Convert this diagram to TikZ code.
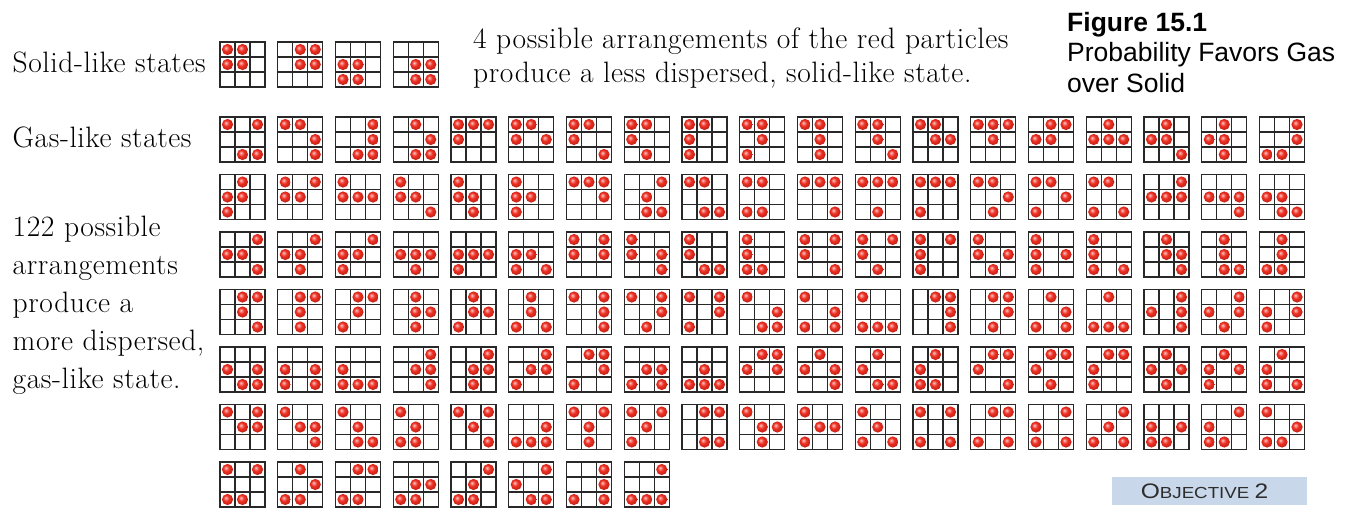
\documentclass[tikz,border=0pt]{standalone}
\usepackage{fontspec}
\newfontfamily\arialfont{Liberation Sans}
\newfontfamily\serifwide{Latin Modern Roman}[LetterSpace=2]
\definecolor{ballred}{RGB}{238,45,32}
\definecolor{gridgray}{RGB}{40,40,40}
\definecolor{objblue}{RGB}{201,215,234}
\definecolor{objtext}{RGB}{45,45,45}
\pgfdeclareradialshading{redball}{\pgfpoint{-8bp}{8bp}}{%
  color(0bp)=(ballred!25!white); color(5bp)=(ballred!55!white); color(13bp)=(ballred);
  color(22bp)=(ballred!88!black); color(25bp)=(ballred!80!black); color(50bp)=(ballred!80!black)}
\tikzset{
  gridline/.style={draw=gridgray,line width=1.3pt},
  particle/.style={shading=redball},
  serif/.style={anchor=base west,inner sep=0pt,font=\serifwide\fontsize{29.5}{38}\selectfont},
  sanslbl/.style={anchor=base west,inner sep=0pt,font=\arialfont\fontsize{26.5}{30}\selectfont},
}
\newcommand\ballat[3]{\ifnum#1=1 \shade[particle] ({7.5+15*#2},{7.5+15*#3}) circle (5.6);\fi}
\def\ballrow#1#2#3#4#5#6#7#8#9\relax{%
  \ballat{#1}{0}{0}\ballat{#2}{1}{0}\ballat{#3}{2}{0}%
  \ballat{#4}{0}{1}\ballat{#5}{1}{1}\ballat{#6}{2}{1}%
  \ballat{#7}{0}{2}\ballat{#8}{1}{2}\ballat{#9}{2}{2}}
\newcommand\gridat[3]{%
  \begin{scope}[shift={({#1},{#2})}]
    \draw[gridline] (0,0) rectangle (45,45);
    \draw[gridline] (15,0) -- (15,45) (30,0) -- (30,45) (0,15) -- (45,15) (0,30) -- (45,30);
    \expandafter\ballrow#3\relax
  \end{scope}}
\newcommand\gasgrid[3]{\gridat{220+(#1-1)*57.75}{117+(#2-1)*57.5}{#3}}
\begin{document}
\begin{tikzpicture}[x=1pt,y=-1pt]
\useasboundingbox (0,0) rectangle (1356,507);
\fill[white] (0,0) rectangle (1356,507);
% solid-like
\gridat{220}{42}{110110000}
\gridat{277.75}{42}{011011000}
\gridat{335.5}{42}{000110110}
\gridat{393.25}{42}{000011011}
% row 1
\foreach \p [count=\c] in {101000011,110001001,001001011,010001011,111100000,110101000,110100001,110100010,110100100,110010100,110010010,110010001,110011000,111010000,011110000,010111000,010110001,010110010,001001110}{\gasgrid{\c}{1}{\p}}
% row 2
\foreach \p [count=\c] in {010110100,101110000,100111000,100110001,100110010,100110100,111001000,001010011,110000011,110000110,111000001,111000010,111000100,110001010,110001100,110000101,001111000,000111001,000110011}{\gasgrid{\c}{2}{\p}}
% row 3
\foreach \p [count=\c] in {001110001,001110010,001110100,000111010,000111100,000110101,101101000,100101001,100100011,100100110,101100001,101100010,101100100,100101010,100101100,100100101,010011001,010010011,010010110}{\gasgrid{\c}{3}{\p}}
% row 4
\foreach \p [count=\c] in {011010001,011010010,011010100,010011010,010011100,010010101,101001001,101001010,101001100,100001011,100001101,100000111,011001001,011001010,010001101,010000111,001101001,001101010,001101100}{\gasgrid{\c}{4}{\p}}
% row 5
\foreach \p [count=\c] in {000101011,000101101,000100111,001011001,001011010,001011100,011001100,000011101,000010111,011101000,010101001,010100011,010100110,011100001,011100010,011100100,010101010,010101100,010100101}{\gasgrid{\c}{5}{\p}}
% row 6
\foreach \p [count=\c] in {101011000,100011001,100010011,100010110,101010001,000001111,101010010,101010100,011000011,100011010,100011100,100010101,101000101,011000101,001100101,001010101,000101110,001100110,100001110}{\gasgrid{\c}{6}{\p}}
% row 7
\foreach \p [count=\c] in {101000110,010001110,011000110,000011110,001010110,001100011,001001101,001000111}{\gasgrid{\c}{7}{\p}}
% left texts
\node[serif] (solidlbl) at (12.5,72.7) {Solid-like states};
\node[serif] (gaslbl) at (12.5,147) {Gas-like states};
\node[serif] (l1) at (12.5,236.7) {122 possible};
\node[serif] (l2) at (12.5,274.6) {arrangements};
\node[serif] (l3) at (12.5,312.5) {produce a};
\node[serif] (l4) at (12.5,350.4) {more dispersed,};
\node[serif] (l5) at (12.5,388.3) {gas-like state.};
% top text
\node[serif] (t1) at (473,48) {4 possible arrangements of the red particles};
\node[serif] (t2) at (473,82.5) {produce a less dispersed, solid-like state.};
% figure caption
\node[sanslbl,font=\arialfont\bfseries\fontsize{26.5}{30}\selectfont] (fig) at (1067,31) {Figure 15.1};
\node[sanslbl] (cap1) at (1067,61.5) {Probability Favors Gas};
\node[sanslbl] (cap2) at (1067,92) {over Solid};
% objective box
\node[fill=objblue,minimum width=195pt,minimum height=28pt,inner sep=0pt] (obj) at (1209.5,491) {};
\node[xscale=1.17,inner sep=0pt,text=objtext] (objtxt) at (1204.5,491)
  {\arialfont\fontsize{21}{21}\selectfont O\fontsize{16}{16}\selectfont BJECTIVE \fontsize{21}{21}\selectfont 2};
\end{tikzpicture}
\end{document}
